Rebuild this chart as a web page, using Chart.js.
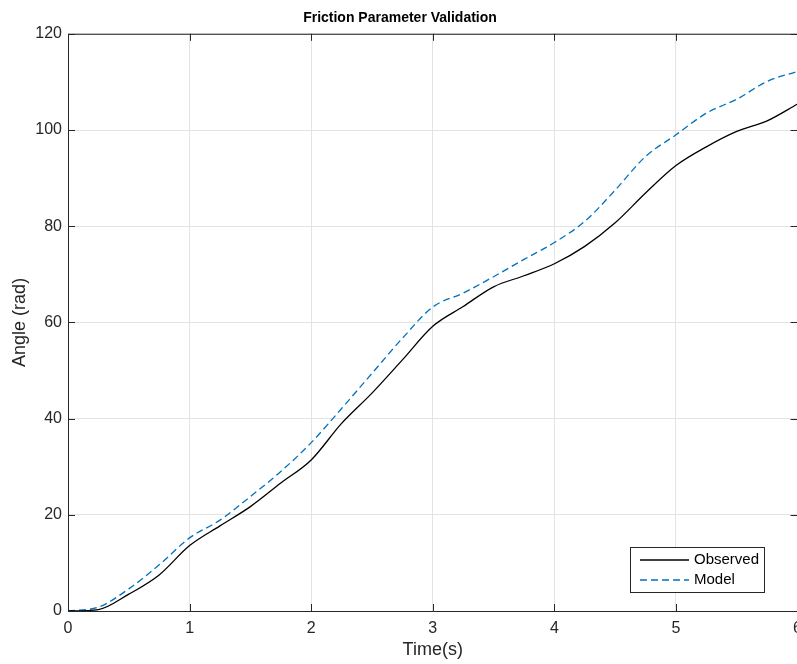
<!DOCTYPE html>
<html>
<head>
<meta charset="utf-8">
<script src="https://cdn.jsdelivr.net/npm/chart.js@4.4.1/dist/chart.umd.min.js"></script>
<style>
  html, body { margin: 0; padding: 0; overflow: hidden; background: #fff; }
  #wrap { width: 810px; height: 664px; position: relative; }
</style>
</head>
<body>
<div id="wrap"><canvas id="chart"></canvas></div>
<script>
// time samples (s)
const times = [0, 0.25, 0.5, 0.75, 1, 1.25, 1.5, 1.75, 2, 2.25, 2.5, 2.75, 3,
  3.25, 3.5, 3.75, 4, 4.25, 4.5, 4.75, 5, 5.25, 5.5, 5.75, 6];

// measured angle (rad)
const observed = [0, 0.3, 3.5, 7.5, 13.6, 17.7, 21.7, 26.6, 31.4, 39.0, 45.3, 52.2, 59.2,
  63.3, 67.4, 69.7, 72.2, 75.8, 80.7, 86.9, 92.6, 96.5, 99.7, 101.9, 105.4];

// simulated angle (rad)
const model = [0, 0.8, 4.6, 9.6, 15.2, 18.9, 23.8, 29.0, 35.0, 42.1, 49.4, 56.7, 63.2,
  66.1, 69.5, 73.1, 76.6, 81.0, 87.5, 94.5, 99.0, 103.5, 106.4, 110.1, 112.2];

const xTicks = [0, 1, 2, 3, 4, 5, 6];
const yTicks = [0, 20, 40, 60, 80, 100, 120];

const axisColor = '#262626';
const fontFamily = '"Liberation Sans", Arial, Helvetica, sans-serif';

function toPoints(ys) {
  return times.map((t, i) => ({ x: t, y: ys[i] }));
}

// box around the axes, inward ticks, and the legend inside the plot
const matlabAxes = {
  id: 'matlabAxes',
  afterDraw(chart) {
    const c = chart.ctx;
    const a = chart.chartArea;
    const xs = chart.scales.x, ys = chart.scales.y;
    c.save();
    c.strokeStyle = axisColor;
    c.lineWidth = 1;
    c.beginPath();
    c.rect(a.left + 0.5, a.top + 0.5, a.right - a.left, a.bottom - a.top);
    c.stroke();
    const tl = 7;
    c.beginPath();
    xTicks.forEach(v => {
      const px = Math.round(xs.getPixelForValue(v)) + 0.5;
      c.moveTo(px, a.bottom); c.lineTo(px, a.bottom - tl);
      c.moveTo(px, a.top); c.lineTo(px, a.top + tl);
    });
    yTicks.forEach(v => {
      const py = Math.round(ys.getPixelForValue(v)) + 0.5;
      c.moveTo(a.left, py); c.lineTo(a.left + tl, py);
      c.moveTo(a.right, py); c.lineTo(a.right - tl, py);
    });
    c.stroke();

    // legend
    const bx = 630, by = 547, bw = 134, bh = 45;
    c.fillStyle = '#fff';
    c.fillRect(bx, by, bw, bh);
    c.strokeStyle = axisColor;
    c.strokeRect(bx + 0.5, by + 0.5, bw, bh);
    c.font = '15px ' + fontFamily;
    c.textBaseline = 'middle';
    chart.data.datasets.forEach((ds, i) => {
      const ly = by + 13 + i * 20;
      c.strokeStyle = ds.borderColor;
      c.lineWidth = ds.borderWidth;
      c.setLineDash(ds.borderDash || []);
      c.beginPath();
      c.moveTo(bx + 10, ly); c.lineTo(bx + 59, ly);
      c.stroke();
      c.setLineDash([]);
      c.fillStyle = '#000';
      c.fillText(ds.label, bx + 64, ly);
    });
    c.restore();
  }
};

new Chart(document.getElementById('chart'), {
  type: 'line',
  data: {
    datasets: [
      {
        label: 'Observed',
        data: toPoints(observed),
        borderColor: '#000000',
        borderWidth: 1.3,
        pointRadius: 0,
        cubicInterpolationMode: 'monotone'
      },
      {
        label: 'Model',
        data: toPoints(model),
        borderColor: '#0072BD',
        borderWidth: 1.3,
        borderDash: [7, 4],
        pointRadius: 0,
        cubicInterpolationMode: 'monotone'
      }
    ]
  },
  options: {
    responsive: true,
    maintainAspectRatio: false,
    animation: false,
    layout: { padding: { left: 0, right: 10, top: 0, bottom: 0 } },
    plugins: {
      legend: { display: false },
      tooltip: { enabled: false },
      title: {
        display: true,
        text: 'Friction Parameter Validation',
        color: '#000',
        font: { family: fontFamily, size: 14, weight: 'bold' },
        padding: { top: 10, bottom: 7 }
      }
    },
    scales: {
      x: {
        type: 'linear',
        min: 0,
        max: 6,
        afterBuildTicks: s => { s.ticks = xTicks.map(v => ({ value: v })); },
        afterFit: s => { s.height = 53; },
        grid: { color: '#e3e3e3', drawTicks: false },
        border: { display: false },
        ticks: { color: axisColor, padding: 8, maxRotation: 0,
          font: { family: fontFamily, size: 16 } },
        title: { display: true, text: 'Time(s)', color: axisColor,
          padding: { top: 0, bottom: 3 },
          font: { family: fontFamily, size: 18 } }
      },
      y: {
        min: 0,
        max: 120,
        afterBuildTicks: s => { s.ticks = yTicks.map(v => ({ value: v })); },
        afterFit: s => { s.width = 68; },
        grid: { color: '#e3e3e3', drawTicks: false },
        border: { display: false },
        ticks: { color: axisColor, padding: 6,
          font: { family: fontFamily, size: 16 } },
        title: { display: true, text: 'Angle (rad)', color: axisColor,
          padding: { top: 9, bottom: 0 },
          font: { family: fontFamily, size: 18 } }
      }
    }
  },
  plugins: [matlabAxes]
});
</script>
</body>
</html>
